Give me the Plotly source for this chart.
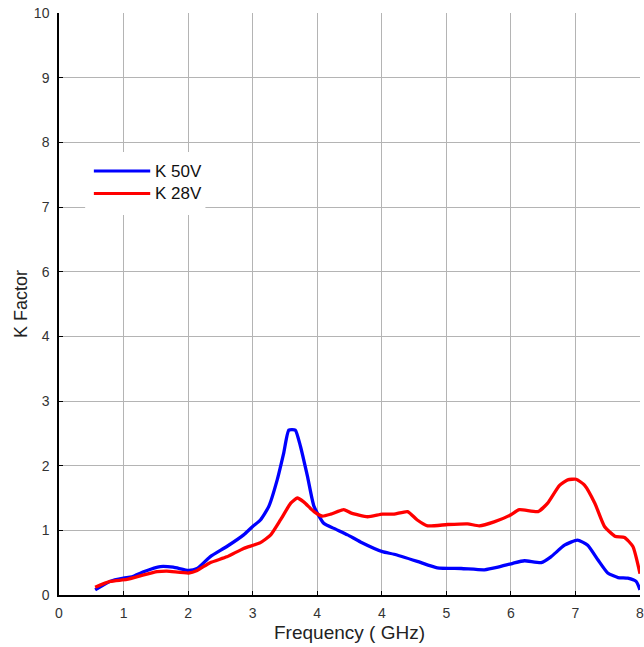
import plotly.graph_objects as go

# x positions are in grid-index units (the axis has 9 equal intervals)
x_tick_labels = ["0", "1", "2", "3", "4", "4", "5", "6", "7", "8"]
y_tick_labels = ["0", "1", "2", "3", "4", "6", "7", "8", "9", "10"]

series_names = ["K 50V", "K 28V"]
series_colors = ["#0000ff", "#ff0000"]

k50_x = [0.56, 0.79, 1.0, 1.13, 1.31, 1.57, 1.77, 2.01, 2.14, 2.34, 2.60, 2.86, 3.0, 3.12,
         3.25, 3.38, 3.48, 3.56, 3.66, 3.74, 3.85, 3.95, 4.10, 4.26, 4.47, 4.67, 5.01, 5.19,
         5.55, 5.86, 6.23, 6.59, 6.80, 7.03, 7.21, 7.47, 7.62, 7.83, 8.03, 8.19, 8.35, 8.50,
         8.66, 8.81, 8.94, 9.0]
k50_y = [0.08, 0.21, 0.26, 0.28, 0.36, 0.44, 0.43, 0.38, 0.41, 0.59, 0.75, 0.93, 1.06, 1.16,
         1.37, 1.78, 2.19, 2.55, 2.55, 2.30, 1.83, 1.37, 1.11, 1.03, 0.93, 0.82, 0.67, 0.63,
         0.52, 0.42, 0.41, 0.39, 0.43, 0.49, 0.53, 0.50, 0.59, 0.77, 0.85, 0.77, 0.54, 0.34,
         0.27, 0.26, 0.21, 0.08]

k28_x = [0.56, 0.79, 1.05, 1.31, 1.52, 1.67, 2.01, 2.14, 2.34, 2.60, 2.86, 3.12, 3.28, 3.43,
         3.59, 3.69, 3.79, 3.95, 4.08, 4.21, 4.41, 4.52, 4.78, 5.01, 5.19, 5.40, 5.55, 5.71,
         6.02, 6.33, 6.51, 6.74, 7.00, 7.13, 7.42, 7.57, 7.75, 7.88, 8.01, 8.14, 8.30, 8.45,
         8.61, 8.76, 8.89, 9.0]
k28_y = [0.12, 0.21, 0.24, 0.31, 0.36, 0.37, 0.34, 0.38, 0.50, 0.59, 0.72, 0.81, 0.93, 1.16,
         1.42, 1.50, 1.44, 1.29, 1.22, 1.25, 1.32, 1.27, 1.21, 1.25, 1.25, 1.29, 1.16, 1.07,
         1.09, 1.10, 1.07, 1.13, 1.24, 1.32, 1.29, 1.42, 1.69, 1.78, 1.79, 1.70, 1.42, 1.06,
         0.91, 0.89, 0.75, 0.33]

font_family = "Liberation Sans, Arial, sans-serif"

fig = go.Figure()
for name, color, xs, ys in [(series_names[0], series_colors[0], k50_x, k50_y),
                            (series_names[1], series_colors[1], k28_x, k28_y)]:
    fig.add_trace(go.Scatter(x=xs, y=ys, mode="lines", name=name,
                             line=dict(color=color, width=3.3, shape="spline", smoothing=0.5)))

# legend drawn in paper coordinates (white box, long line samples, labels)
shapes = [dict(type="rect", xref="paper", yref="paper", x0=0.045, x1=0.252, y0=0.653, y1=0.761,
               fillcolor="white", line=dict(width=0), layer="above")]
annotations = []
legend_rows_y = [0.7285, 0.690]
for name, color, ly in zip(series_names, series_colors, legend_rows_y):
    shapes.append(dict(type="line", xref="paper", yref="paper", x0=0.060, x1=0.157, y0=ly, y1=ly,
                       line=dict(color=color, width=3), layer="above"))
    annotations.append(dict(xref="paper", yref="paper", x=0.161, y=ly, xanchor="left",
                            yanchor="middle", text=name, showarrow=False,
                            font=dict(size=17, color="#111111", family=font_family)))

fig.update_layout(
    width=644, height=647,
    margin=dict(l=59, r=0, t=13, b=52, pad=0),
    paper_bgcolor="white", plot_bgcolor="white",
    font=dict(family=font_family, color="#222222", size=14),
    showlegend=False,
    shapes=shapes, annotations=annotations,
    xaxis=dict(range=[0, 9], tickmode="array", tickvals=list(range(10)),
               ticktext=x_tick_labels, showgrid=True, gridcolor="#b4b4b4", gridwidth=1,
               showline=True, linecolor="black", linewidth=1.5,
               ticks="inside", ticklen=4, tickcolor="black", ticklabelstandoff=4,
               ticklabeloverflow="allow",
               zeroline=False, tickfont=dict(size=14, color="#333333"),
               title=dict(text="Frequency ( GHz)", font=dict(size=19, color="#222222"), standoff=6)),
    yaxis=dict(range=[0, 9], tickmode="array", tickvals=list(range(10)),
               ticktext=y_tick_labels, showgrid=True, gridcolor="#b4b4b4", gridwidth=1,
               showline=True, linecolor="black", linewidth=1.5,
               ticks="inside", ticklen=4, tickcolor="black", ticklabelstandoff=5,
               ticklabeloverflow="allow",
               zeroline=False, tickfont=dict(size=14, color="#333333"),
               title=dict(text="K Factor", font=dict(size=18, color="#222222"), standoff=2)),
)

fig.write_html("out.html", config={"displayModeBar": False},
               post_script="document.body.style.margin='0';")
